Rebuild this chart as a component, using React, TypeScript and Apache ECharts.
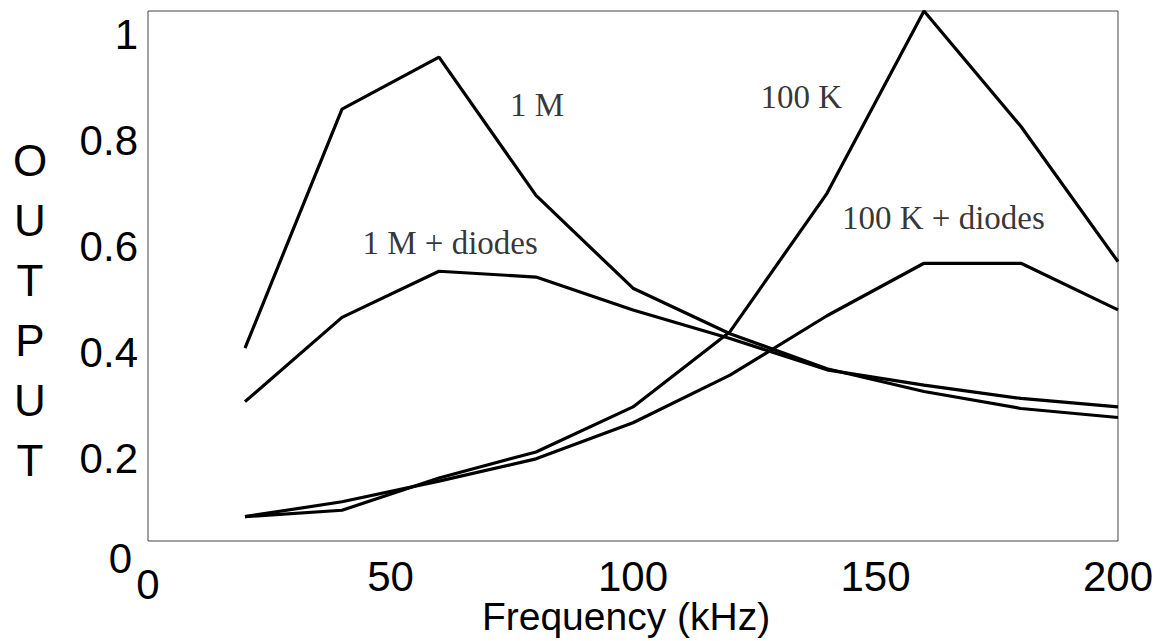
import React, { useEffect, useRef } from "react";
import * as echarts from "echarts";

const freq = [20, 40, 60, 80, 100, 120, 140, 160, 180, 200];
const out1M = [0.364, 0.815, 0.913, 0.652, 0.477, 0.391, 0.325, 0.282, 0.25, 0.233];
const out1MDiodes = [0.263, 0.422, 0.509, 0.498, 0.436, 0.382, 0.323, 0.294, 0.269, 0.253];
const out100K = [0.046, 0.058, 0.119, 0.168, 0.253, 0.395, 0.656, 1.0, 0.782, 0.527];
const out100KDiodes = [0.046, 0.074, 0.113, 0.155, 0.223, 0.313, 0.425, 0.524, 0.524, 0.436];

const annotationTexts = ["1 M", "1 M + diodes", "100 K", "100 K + diodes"];
const annotationX = [80.2, 62.3, 134.7, 164.0];
const annotationY = [0.823, 0.562, 0.838, 0.609];

const yTitleLetters = ["O", "U", "T", "P", "U", "T"];
const xTitle = "Frequency (kHz)";

const SANS = '"Liberation Sans", Arial, Helvetica, sans-serif';
const SERIF = '"Liberation Serif", "Times New Roman", serif';

function lineSeries(name: string, vals: number[]) {
  return {
    name,
    type: "line",
    data: freq.map((f, i) => [f, vals[i]]),
    symbol: "none",
    clip: false,
    lineStyle: { color: "#000", width: 3.2 },
  };
}

export default function App() {
  const ref = useRef<HTMLDivElement>(null);
  useEffect(() => {
    document.body.style.margin = "0";
    const chart = echarts.init(ref.current!, null, { renderer: "svg" });
    chart.setOption({
      animation: false,
      backgroundColor: "#fff",
      grid: {
        left: 148,
        right: 46,
        top: 11,
        bottom: 100,
        containLabel: false,
        outerBoundsMode: "none",
        show: true,
        borderColor: "#444",
        borderWidth: 1,
        backgroundColor: "transparent",
      },
      xAxis: {
        type: "value",
        min: 0,
        max: 200,
        interval: 50,
        axisLine: { show: false },
        axisTick: { show: false },
        splitLine: { show: false },
        name: xTitle,
        nameLocation: "middle",
        nameGap: 56,
        nameMoveOverlap: false,
        nameTextStyle: {
          fontFamily: SANS,
          fontSize: 39,
          color: "#000",
          verticalAlign: "top",
          padding: [0, 14, 0, 0],
        },
        axisLabel: {
          margin: 14,
          color: "#000",
          fontFamily: SANS,
          fontSize: 42,
          formatter: (v: number) => (v === 0 ? "{z|0}" : "{a|" + v + "}"),
          rich: {
            a: { fontFamily: SANS, fontSize: 42, color: "#000" },
            z: { fontFamily: SANS, fontSize: 42, color: "#000", padding: [8, 0, 0, 0] },
          },
        },
      },
      yAxis: {
        type: "value",
        min: 0,
        max: 1,
        interval: 0.2,
        axisLine: { show: false },
        axisTick: { show: false },
        splitLine: { show: false },
        axisLabel: {
          margin: 10,
          color: "#000",
          fontFamily: SANS,
          fontSize: 42,
          formatter: (v: number) =>
            v === 0 ? "{z|0}" : "{a|" + parseFloat(v.toFixed(1)) + "}",
          rich: {
            a: { fontFamily: SANS, fontSize: 42, color: "#000", padding: [46, 0, 0, 0] },
            z: { fontFamily: SANS, fontSize: 42, color: "#000", padding: [34, 6, 0, 0] },
          },
        },
      },
      graphic: [
        {
          type: "text",
          x: 30,
          y: 310,
          style: {
            text: yTitleLetters.join("\n"),
            font: "44px " + SANS,
            fill: "#000",
            align: "center",
            verticalAlign: "middle",
            lineHeight: 60,
          },
        },
      ],
      series: [
        lineSeries("1 M", out1M),
        lineSeries("1 M + diodes", out1MDiodes),
        lineSeries("100 K", out100K),
        lineSeries("100 K + diodes", out100KDiodes),
        {
          type: "scatter",
          symbolSize: 0,
          silent: true,
          data: annotationTexts.map((t, i) => ({ name: t, value: [annotationX[i], annotationY[i]] })),
          label: {
            show: true,
            position: "inside",
            formatter: (p: any) => p.name,
            fontFamily: SERIF,
            fontSize: 33,
            color: "#000",
          },
        },
      ],
    });
    return () => chart.dispose();
  }, []);
  return <div ref={ref} style={{ width: 1164, height: 641 }} />;
}
